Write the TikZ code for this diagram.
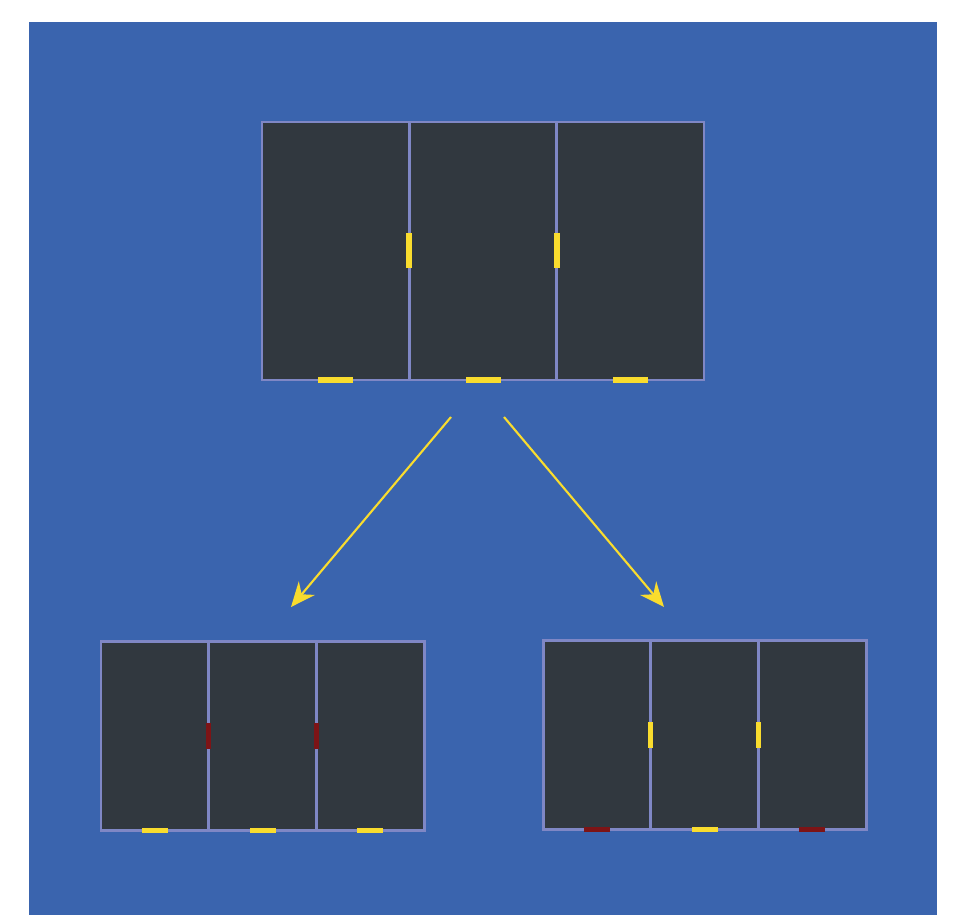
\documentclass[tikz,border=0pt]{standalone}
\usetikzlibrary{arrows.meta}
\definecolor{bgblue}{HTML}{3A64AE}
\definecolor{slab}{HTML}{31383F}
\definecolor{wall}{HTML}{7F87C5}
\definecolor{doorY}{HTML}{F9DC2E}
\definecolor{doorR}{HTML}{7D1416}
% #1,#2 corner, #3 room width, #4 height, #5 divider door colour,
% #6 bottom door colours, #7 door length, #8 door thickness
\newcommand{\floorplan}[8]{%
  \foreach \i in {0,1,2} {
    \filldraw[fill=slab, draw=wall, line width=1.7pt] ({#1+\i*#3},#2) rectangle ++(#3,#4);
  }
  \foreach \i in {1,2} {
    \fill[#5] ({#1+\i*#3-#8/2},{#2+#4/2-#7/2}) rectangle ++(#8,#7);
  }
  \foreach \c [count=\i from 0] in {#6} {
    \fill[\c] ({#1+(\i+0.5)*#3-#7/2},{#2+#4-#8/2}) rectangle ++(#7,#8);
  }
}

\begin{document}
\begin{tikzpicture}[x=0.02cm,y=-0.02cm,
  flow/.style={doorY, line width=1.2pt, -{Stealth[length=14pt,width=12pt]}}]
  \useasboundingbox (0,0) rectangle (969,915);
  \fill[white] (0,0) rectangle (969,915);
  \fill[bgblue] (29,22) rectangle (937,915);

  \floorplan{262}{122}{147.33}{258}{doorY}{doorY,doorY,doorY}{35}{6}
  \floorplan{101}{641}{107.67}{189}{doorR}{doorY,doorY,doorY}{26}{5}
  \floorplan{543}{640}{107.67}{189}{doorY}{doorR,doorY,doorR}{26}{5}

  \coordinate (forkL) at (451,417);
  \coordinate (tipL) at (291,607);
  \coordinate (forkR) at (504,417);
  \coordinate (tipR) at (664,607);
  \draw[flow] (forkL) -- (tipL);
  \draw[flow] (forkR) -- (tipR);
\end{tikzpicture}
\end{document}
